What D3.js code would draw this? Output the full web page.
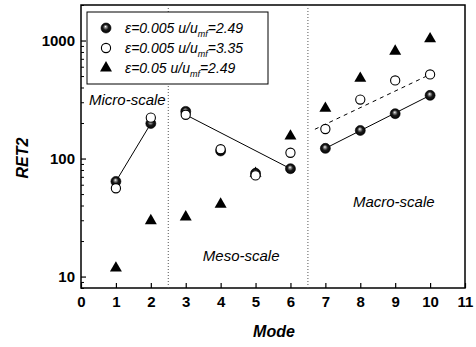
<!DOCTYPE html>
<html>
<head>
<meta charset="utf-8">
<script src="https://cdn.jsdelivr.net/npm/d3@7"></script>
<style>
  body { margin: 0; background: #fff; }
  text { font-family: Arial, "Liberation Sans", sans-serif; }
</style>
</head>
<body>
<script>
// values
var modes = [1, 2, 3, 4, 5, 6, 7, 8, 9, 10];
var ret2Low = [64, 198, 251, 116, 75, 82, 122, 173, 240, 343];      // eps=0.005 u/umf=2.49
var ret2High = [56, 222, 235, 120, 72, 112, 178, 316, 459, 516];    // eps=0.005 u/umf=3.35
var ret2Coarse = [11.8, 29.7, 32, 41, 75, 155, 266, 478, 812, 1033]; // eps=0.05 u/umf=2.49

var xTicks = [0, 1, 2, 3, 4, 5, 6, 7, 8, 9, 10, 11];
var yTicks = [10, 100, 1000];
var dividers = [2.5, 6.5];

// trend lines: [x0, y0, x1, y1]
var fitMicro = [1, 64, 2, 198];
var fitMeso = [3, 235, 6, 82];
var fitMacro = [7, 122, 10, 343];
var fitMacroHigh = [6.7, 177, 10, 516];

var regionNames = ["Micro-scale", "Meso-scale", "Macro-scale"];
var regionPos = [[0.23, 284], [3.49, 13.5], [7.79, 38.8]]; // [mode, RET2] of label start

var margin = {top: 5, right: 11, bottom: 59, left: 81},
    width = 476 - margin.left - margin.right,
    height = 347 - margin.top - margin.bottom;

var svgRoot = d3.select("body").append("svg")
  .attr("width", 476)
  .attr("height", 347);

var defs = svgRoot.append("defs");
var grad = defs.append("radialGradient")
  .attr("id", "ball")
  .attr("cx", "50%").attr("cy", "50%").attr("r", "55%")
  .attr("fx", "45%").attr("fy", "35%");
grad.append("stop").attr("offset", "0%").attr("stop-color", "#ffffff");
grad.append("stop").attr("offset", "18%").attr("stop-color", "#999");
grad.append("stop").attr("offset", "50%").attr("stop-color", "#1a1a1a");
grad.append("stop").attr("offset", "100%").attr("stop-color", "#000");

var svg = svgRoot.append("g")
  .attr("transform", "translate(" + margin.left + "," + margin.top + ")");

var x = d3.scaleLinear().domain([0, 11]).range([0, width]);
var y = d3.scaleLog().domain([8, 2000]).range([height, 0]);

// minor y ticks
var minor = y.ticks().filter(function(v) { return yTicks.indexOf(v) < 0; });
svg.append("g")
  .call(d3.axisLeft(y).tickValues(minor).tickSize(-3).tickFormat(""))
  .call(function(g) { g.select(".domain").remove(); })
  .selectAll("line").attr("stroke", "#000").attr("stroke-width", 1);

// major y ticks
svg.append("g")
  .call(d3.axisLeft(y).tickValues(yTicks).tickSize(-5).tickPadding(6).tickFormat(d3.format("d")))
  .call(function(g) { g.select(".domain").remove(); })
  .call(function(g) {
    g.selectAll("line").attr("stroke-width", 1.2);
    g.selectAll("text").style("font-size", "15px").style("font-weight", "bold").attr("dy", "0.36em");
  });

// x ticks
svg.append("g")
  .attr("transform", "translate(0," + height + ")")
  .call(d3.axisBottom(x).tickValues(xTicks).tickSize(-5).tickPadding(8).tickFormat(d3.format("d")))
  .call(function(g) { g.select(".domain").remove(); })
  .call(function(g) {
    g.selectAll("line").attr("stroke-width", 1.2);
    g.selectAll("text").style("font-size", "15px").style("font-weight", "bold").attr("y", 19).attr("dy", 0);
  });

// frame
svg.append("rect")
  .attr("width", width).attr("height", height)
  .attr("fill", "none").attr("stroke", "#000").attr("stroke-width", 1.5);

// region dividers
svg.selectAll(".divider")
  .data(dividers)
  .enter().append("line")
  .attr("class", "divider")
  .attr("x1", function(d) { return x(d); })
  .attr("x2", function(d) { return x(d); })
  .attr("y1", 0).attr("y2", height)
  .attr("stroke", "#555").attr("stroke-width", 1)
  .attr("stroke-dasharray", "1,2");

// trend lines
var fits = [fitMicro, fitMeso, fitMacro, fitMacroHigh];
var fitDash = [null, null, null, "4,4"];
svg.selectAll(".fit")
  .data(fits)
  .enter().append("line")
  .attr("class", "fit")
  .attr("x1", function(d) { return x(d[0]); })
  .attr("y1", function(d) { return y(d[1]); })
  .attr("x2", function(d) { return x(d[2]); })
  .attr("y2", function(d) { return y(d[3]); })
  .attr("stroke", "#000").attr("stroke-width", 1)
  .attr("stroke-dasharray", function(d, i) { return fitDash[i]; });

var tri = d3.symbol().type(d3.symbolTriangle).size(62);

function pts(vals) {
  return modes.map(function(m, i) { return {m: m, v: vals[i]}; });
}

svg.selectAll(".tri")
  .data(pts(ret2Coarse))
  .enter().append("path")
  .attr("class", "tri")
  .attr("d", tri)
  .attr("transform", function(d) { return "translate(" + x(d.m) + "," + y(d.v) + ")"; })
  .attr("fill", "#000");

svg.selectAll(".ball")
  .data(pts(ret2Low))
  .enter().append("circle")
  .attr("class", "ball")
  .attr("cx", function(d) { return x(d.m); })
  .attr("cy", function(d) { return y(d.v); })
  .attr("r", 5)
  .attr("fill", "url(#ball)").attr("stroke", "#000").attr("stroke-width", 0.6);

svg.selectAll(".open")
  .data(pts(ret2High))
  .enter().append("circle")
  .attr("class", "open")
  .attr("cx", function(d) { return x(d.m); })
  .attr("cy", function(d) { return y(d.v); })
  .attr("r", 4.6)
  .attr("fill", "#fff").attr("stroke", "#000").attr("stroke-width", 1.1);

// region labels
svg.selectAll(".region")
  .data(regionNames)
  .enter().append("text")
  .attr("class", "region")
  .attr("x", function(d, i) { return x(regionPos[i][0]); })
  .attr("y", function(d, i) { return y(regionPos[i][1]); })
  .style("font-size", "15px").style("font-style", "italic")
  .text(function(d) { return d; });

// legend
var legend = svgRoot.append("g").attr("transform", "translate(87,12)");
legend.append("rect")
  .attr("width", 181).attr("height", 72)
  .attr("fill", "#fff").attr("stroke", "#000").attr("stroke-width", 1);

var legendRows = [
  {eps: "0.005", ratio: "2.49"},
  {eps: "0.005", ratio: "3.35"},
  {eps: "0.05", ratio: "2.49"}
];
var rows = legend.selectAll(".row")
  .data(legendRows)
  .enter().append("g")
  .attr("transform", function(d, i) { return "translate(0," + (16 + i * 20) + ")"; });

rows.each(function(d, i) {
  var g = d3.select(this);
  if (i === 0) {
    g.append("circle").attr("cx", 19).attr("cy", 0).attr("r", 5)
      .attr("fill", "url(#ball)").attr("stroke", "#000").attr("stroke-width", 0.6);
  } else if (i === 1) {
    g.append("circle").attr("cx", 19).attr("cy", 0).attr("r", 4.6)
      .attr("fill", "#fff").attr("stroke", "#000").attr("stroke-width", 1.1);
  } else {
    g.append("path").attr("d", tri).attr("transform", "translate(19,0)").attr("fill", "#000");
  }
  var t = g.append("text").attr("x", 38).attr("y", 5)
    .style("font-size", "14px").style("font-style", "italic");
  t.append("tspan").text("\u03b5=" + d.eps + " u/u");
  t.append("tspan").attr("dy", 4).style("font-size", "9px").text("mf");
  t.append("tspan").attr("dy", -4).text("=" + d.ratio);
});

// axis titles
svgRoot.append("text")
  .attr("x", 274).attr("y", 337)
  .attr("text-anchor", "middle")
  .style("font-size", "16px").style("font-weight", "bold").style("font-style", "italic")
  .text("Mode");

svgRoot.append("text")
  .attr("transform", "translate(28,158) rotate(-90)")
  .attr("text-anchor", "middle")
  .style("font-size", "16px").style("font-weight", "bold").style("font-style", "italic")
  .text("RET2");
</script>
</body>
</html>
